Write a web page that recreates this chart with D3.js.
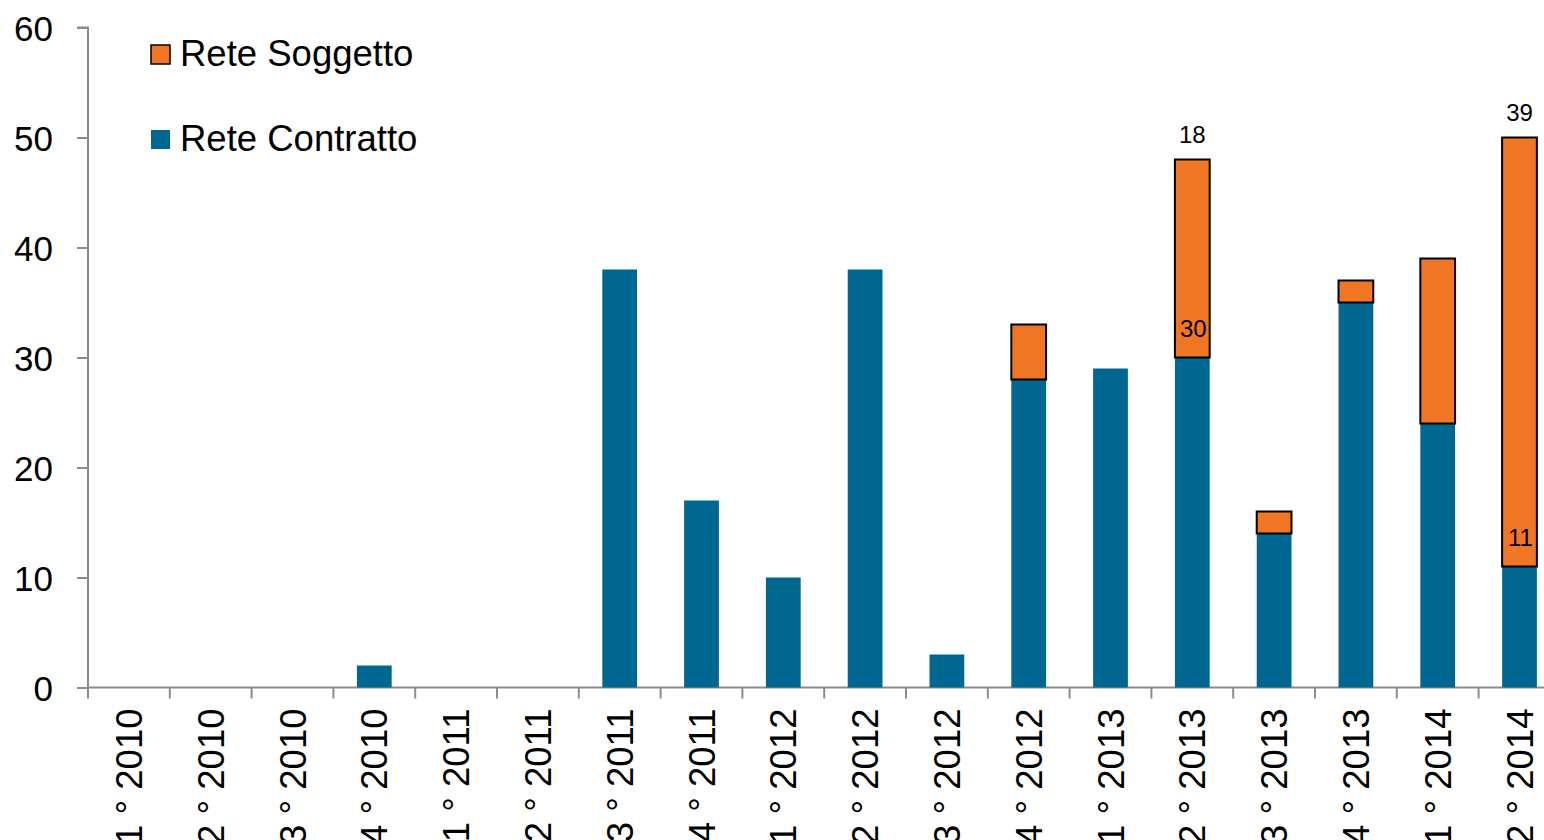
<!DOCTYPE html>
<html>
<head>
<meta charset="utf-8">
<script src="https://cdn.jsdelivr.net/npm/d3@7"></script>
<style>
  html, body { margin: 0; padding: 0; background: #fff; overflow: hidden; }
  svg { display: block; }
  text { font-family: "Liberation Sans", Arial, sans-serif; fill: #000; }
</style>
</head>
<body>
<svg id="chart" width="1544" height="840"></svg>
<script>
const categories = ["1 ° 2010","2 ° 2010","3 ° 2010","4 ° 2010","1 ° 2011","2 ° 2011","3 ° 2011","4 ° 2011","1 ° 2012","2 ° 2012","3 ° 2012","4 ° 2012","1 ° 2013","2 ° 2013","3 ° 2013","4 ° 2013","1 ° 2014","2 ° 2014"];
const reteContratto = [0,0,0,2,0,0,38,17,10,38,3,28,29,30,14,35,24,11];
const reteSoggetto  = [0,0,0,0,0,0,0,0,0,0,0,5,0,18,2,2,15,39];
const contrattoLabels = [null,null,null,null,null,null,null,null,null,null,null,null,null,"30",null,null,null,"11"];
const soggettoLabels  = [null,null,null,null,null,null,null,null,null,null,null,null,null,"18",null,null,null,"39"];
const yTicks = [0,10,20,30,40,50,60];
const seriesNames = ["Rete Soggetto","Rete Contratto"];

const colors = { contratto: "#006890", soggetto: "#F07524", axis: "#8c8c8c" };

const svg = d3.select("#chart");
const mLeft = 88, mTop = 27.5, mBottom = 687.5, step = 81.8;
const mRight = mLeft + step * categories.length;

const x = d3.scaleBand().domain(categories).range([mLeft, mRight]).paddingInner(0.575).paddingOuter(0.2875);
const y = d3.scaleLinear().domain([0, 60]).range([mBottom, mTop]);

// Y axis
const yAxis = d3.axisLeft(y).tickValues(yTicks).tickSize(11).tickPadding(24);
const gy = svg.append("g").attr("transform", `translate(${mLeft},0)`).call(yAxis);
gy.select(".domain").attr("stroke", colors.axis).attr("stroke-width", 2).attr("d", `M-11,${mTop}H0V${mBottom}`);
gy.selectAll(".tick line").attr("stroke", colors.axis).attr("stroke-width", 2);
gy.selectAll(".tick text").style("font-size", "35px").attr("font-family", null).attr("dy", "0.36em");

// X axis (ticks at category boundaries)
const boundaries = d3.range(categories.length + 1).map(i => mLeft + i * step);
const gx = svg.append("g");
gx.append("line").attr("x1", mLeft).attr("x2", mRight).attr("y1", mBottom).attr("y2", mBottom)
  .attr("stroke", colors.axis).attr("stroke-width", 2);
gx.selectAll("line.t").data(boundaries).enter().append("line").attr("class", "t")
  .attr("x1", d => d).attr("x2", d => d).attr("y1", mBottom).attr("y2", mBottom + 11)
  .attr("stroke", colors.axis).attr("stroke-width", 2);
gx.selectAll("text").data(categories).enter().append("text")
  .attr("transform", d => `translate(${x(d) + x.bandwidth() / 2},${mBottom + 21}) rotate(-90)`)
  .attr("text-anchor", "end").attr("dy", "0.36em")
  .style("font-size", "36.5px")
  .text(d => d);

// Bars
const data = categories.map((c, i) => ({ c, con: reteContratto[i], sog: reteSoggetto[i], cl: contrattoLabels[i], sl: soggettoLabels[i] }));
svg.append("g").selectAll("rect").data(data.filter(d => d.con > 0)).enter().append("rect")
  .attr("x", d => x(d.c)).attr("width", x.bandwidth())
  .attr("y", d => y(d.con)).attr("height", d => y(0) - y(d.con))
  .attr("fill", colors.contratto);
svg.append("g").selectAll("rect").data(data.filter(d => d.sog > 0)).enter().append("rect")
  .attr("x", d => x(d.c)).attr("width", x.bandwidth())
  .attr("y", d => y(d.con + d.sog)).attr("height", d => y(d.con) - y(d.con + d.sog))
  .attr("fill", colors.soggetto).attr("stroke", "#000").attr("stroke-width", 2);

// Data labels
const lg = svg.append("g").style("font-size", "24px").attr("text-anchor", "middle");
lg.selectAll("text.c").data(data.filter(d => d.cl)).enter().append("text").attr("class", "c")
  .attr("x", d => x(d.c) + x.bandwidth() / 2 + 1).attr("y", d => y(d.con) - 21).text(d => d.cl);
lg.selectAll("text.s").data(data.filter(d => d.sl)).enter().append("text").attr("class", "s")
  .attr("x", d => x(d.c) + x.bandwidth() / 2).attr("y", d => y(d.con + d.sog) - 17).text(d => d.sl);

// Legend
const legend = svg.append("g");
const legendItems = [
  { name: seriesNames[0], fill: colors.soggetto, stroke: "#000" },
  { name: seriesNames[1], fill: colors.contratto, stroke: "none" }
];
legendItems.forEach((it, i) => {
  const ly = 45 + i * 85;
  legend.append("rect").attr("x", 151).attr("y", ly).attr("width", 19).attr("height", 19)
    .attr("fill", it.fill).attr("stroke", it.stroke).attr("stroke-width", 1.5);
  legend.append("text").attr("x", 180).attr("y", ly + 21).style("font-size", "36.5px").text(it.name);
});
</script>
</body>
</html>
